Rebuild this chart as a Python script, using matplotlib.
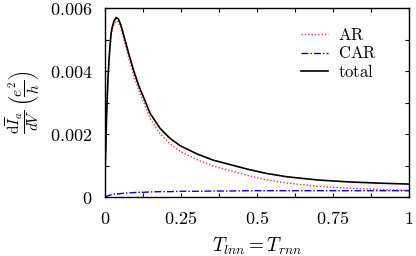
import matplotlib
matplotlib.use("Agg")
import matplotlib.pyplot as plt
from matplotlib.ticker import MultipleLocator

plt.rcParams['mathtext.fontset'] = 'cm'
plt.rcParams['font.family'] = 'serif'
plt.rcParams['font.serif'] = ['DejaVu Serif']

x = [0, 0.0025, 0.005, 0.0075, 0.01, 0.0135, 0.0165, 0.02, 0.024, 0.03, 0.037, 0.044,
     0.052, 0.0625, 0.079, 0.095, 0.112, 0.128, 0.148, 0.181, 0.214, 0.247, 0.302, 0.356,
     0.411, 0.47, 0.53, 0.6, 0.7, 0.8, 0.9, 1.0]
total = [0.0008, 0.0015, 0.0025, 0.0032, 0.0038, 0.0044, 0.0048, 0.0052, 0.0054, 0.0056,
         0.0057, 0.00565, 0.00547, 0.0051, 0.00452, 0.00399, 0.00351, 0.00314, 0.00266,
         0.00218, 0.00186, 0.00163, 0.00137, 0.00117, 0.00103, 0.00088, 0.00075, 0.00064,
         0.00054, 0.00048, 0.00044, 0.00041]
car = [0, 0.00001, 0.00002, 0.00003, 0.00004, 0.00005, 0.00006, 0.00007, 0.00008, 0.00009,
       0.0001, 0.0001, 0.00011, 0.00012, 0.00013, 0.00014, 0.00015, 0.00015, 0.00016,
       0.00017, 0.00017, 0.00018, 0.00018, 0.00019, 0.00019, 0.0002, 0.0002, 0.0002,
       0.0002, 0.0002, 0.0002, 0.0002]
ar = [0.0008, 0.00149, 0.00248, 0.00317, 0.00376, 0.00435, 0.00474, 0.00513, 0.00532,
      0.00551, 0.0056, 0.00555, 0.00536, 0.00498, 0.00439, 0.00385, 0.00336, 0.00299,
      0.0025, 0.00201, 0.00169, 0.00145, 0.00119, 0.00098, 0.00084, 0.00068, 0.00055,
      0.00044, 0.00034, 0.00028, 0.00024, 0.00021]

xticks = [0, 0.25, 0.5, 0.75, 1]
xticklabels = ['$0$', '$0.25$', '$0.5$', '$0.75$', '$1$']
yticks = [0, 0.002, 0.004, 0.006]
yticklabels = ['$0$', '$0.002$', '$0.004$', '$0.006$']

fig = plt.figure(figsize=(4.16, 2.56), dpi=100)
ax = fig.add_axes([105/416, 1-197/256, 304/416, 189/256])

ax.plot(x, ar, color='#ff3030', linestyle=(0, (1, 1.4)), linewidth=1.0, label=r'$\mathrm{AR}$')
ax.plot(x, car, color='#0000ff', linestyle=(0, (5, 1.5, 1, 1.5)), linewidth=1.0, label=r'$\mathrm{CAR}$')
ax.plot(x, total, color='black', linestyle='-', linewidth=1.2, label=r'$\mathrm{total}$')

ax.set_xlim(0, 1)
ax.set_ylim(0, 0.006)
ax.set_xticks(xticks)
ax.set_xticklabels(xticklabels, fontsize=13)
ax.set_yticks(yticks)
ax.set_yticklabels(yticklabels, fontsize=13)
ax.xaxis.set_minor_locator(MultipleLocator(0.125))
ax.yaxis.set_minor_locator(MultipleLocator(0.001))
ax.tick_params(which='both', direction='in', top=True, right=True, length=3, width=0.8)
ax.tick_params(which='major', pad=9)
for s in ax.spines.values():
    s.set_linewidth(1.0)

ax.set_xlabel(r'$T_{lnn}=T_{rnn}$', fontsize=14, labelpad=6)
ax.set_ylabel(r'$\dfrac{\mathrm{d}\overline{I}_a}{dV}\;\left(\dfrac{e^2}{h}\right)$', fontsize=11, labelpad=6)

leg = ax.legend(loc='upper right', frameon=False, handlelength=1.6,
                handletextpad=0.6, labelspacing=0.1, borderpad=0,
                bbox_to_anchor=(0.92, 0.945), prop={'size': 12})

fig.savefig('out.png', dpi=100)
